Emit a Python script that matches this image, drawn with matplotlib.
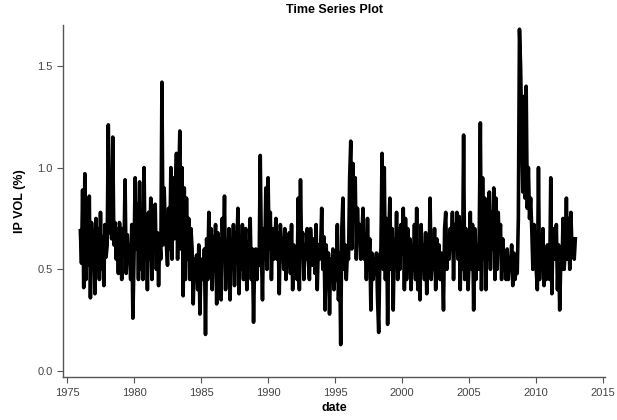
import numpy as np
import matplotlib
matplotlib.use("Agg")
import matplotlib.pyplot as plt

plt.rcParams['font.family'] = ['Liberation Sans', 'DejaVu Sans']

# monthly IP volatility (%), Jan 1976 .. Dec 2012
y1976 = [0.69, 0.53, 0.89, 0.41, 0.97, 0.45, 0.75, 0.52, 0.86, 0.36, 0.73, 0.62]
y1977 = [0.69, 0.38, 0.75, 0.55, 0.70, 0.45, 0.78, 0.50, 0.66, 0.42, 0.72, 0.56]
y1978 = [0.62, 1.21, 0.68, 0.85, 0.65, 1.15, 0.62, 0.73, 0.55, 0.70, 0.48, 0.73]
y1979 = [0.66, 0.45, 0.70, 0.58, 0.94, 0.48, 0.67, 0.55, 0.60, 0.45, 0.72, 0.26]
y1980 = [0.55, 0.95, 0.60, 0.82, 0.45, 0.93, 0.50, 0.75, 0.45, 1.00, 0.55, 0.70]
y1981 = [0.40, 0.78, 0.55, 0.85, 0.45, 0.70, 0.60, 0.82, 0.50, 0.68, 0.42, 0.65]
y1982 = [0.55, 1.42, 0.62, 0.90, 0.70, 0.62, 0.52, 0.80, 0.60, 1.00, 0.55, 0.95]
y1983 = [0.65, 0.85, 1.07, 0.55, 0.90, 1.18, 0.60, 1.00, 0.37, 0.90, 0.45, 0.85]
y1984 = [0.55, 0.75, 0.45, 0.70, 0.60, 0.33, 0.55, 0.48, 0.57, 0.40, 0.62, 0.28]
y1985 = [0.55, 0.45, 0.50, 0.60, 0.18, 0.65, 0.45, 0.78, 0.50, 0.70, 0.40, 0.66]
y1986 = [0.58, 0.72, 0.33, 0.68, 0.50, 0.65, 0.35, 0.75, 0.55, 0.86, 0.40, 0.62]
y1987 = [0.50, 0.70, 0.35, 0.65, 0.55, 0.72, 0.42, 0.68, 0.58, 0.80, 0.38, 0.66]
y1988 = [0.50, 0.72, 0.45, 0.60, 0.70, 0.40, 0.62, 0.55, 0.75, 0.45, 0.60, 0.24]
y1989 = [0.55, 0.60, 0.45, 0.58, 0.52, 1.06, 0.60, 0.35, 0.70, 0.55, 0.90, 0.50]
y1990 = [0.95, 0.60, 0.78, 0.45, 0.70, 0.55, 0.62, 0.75, 0.55, 0.68, 0.38, 0.72]
y1991 = [0.60, 0.65, 0.50, 0.70, 0.45, 0.62, 0.55, 0.68, 0.48, 0.72, 0.40, 0.62]
y1992 = [0.55, 0.60, 0.45, 0.85, 0.40, 0.94, 0.60, 0.68, 0.45, 0.62, 0.55, 0.70]
y1993 = [0.55, 0.45, 0.70, 0.60, 0.52, 0.65, 0.48, 0.72, 0.40, 0.62, 0.55, 0.60]
y1994 = [0.80, 0.50, 0.66, 0.30, 0.62, 0.45, 0.58, 0.28, 0.55, 0.45, 0.60, 0.40]
y1995 = [0.52, 0.45, 0.72, 0.35, 0.58, 0.13, 0.70, 0.85, 0.50, 0.62, 0.45, 0.58]
y1996 = [0.55, 0.95, 1.13, 0.60, 1.02, 0.75, 0.95, 0.55, 0.80, 0.65, 0.72, 0.55]
y1997 = [0.68, 0.80, 0.55, 0.67, 0.45, 0.75, 0.50, 0.65, 0.30, 0.58, 0.45, 0.55]
y1998 = [0.50, 0.58, 0.35, 0.19, 0.55, 0.60, 1.07, 0.50, 1.00, 0.45, 0.75, 0.23]
y1999 = [0.65, 0.85, 0.50, 0.70, 0.30, 0.65, 0.55, 0.78, 0.45, 0.70, 0.50, 0.72]
y2000 = [0.60, 0.80, 0.40, 0.75, 0.45, 0.70, 0.55, 0.65, 0.40, 0.62, 0.50, 0.72]
y2001 = [0.45, 0.80, 0.40, 0.60, 0.35, 0.72, 0.50, 0.62, 0.45, 0.68, 0.38, 0.60]
y2002 = [0.50, 0.85, 0.45, 0.60, 0.50, 0.70, 0.40, 0.65, 0.55, 0.62, 0.45, 0.58]
y2003 = [0.52, 0.30, 0.70, 0.78, 0.50, 0.65, 0.55, 0.70, 0.60, 0.78, 0.45, 0.72]
y2004 = [0.60, 0.78, 0.55, 0.76, 0.40, 0.72, 0.50, 1.16, 0.45, 0.70, 0.60, 0.40]
y2005 = [0.55, 0.78, 0.50, 0.72, 0.30, 0.70, 0.45, 0.62, 0.50, 0.68, 1.22, 0.40]
y2006 = [0.95, 0.55, 0.85, 0.40, 0.80, 0.55, 0.88, 0.50, 0.78, 0.60, 0.90, 0.45]
y2007 = [0.85, 0.50, 0.78, 0.60, 0.72, 0.45, 0.65, 0.50, 0.58, 0.45, 0.60, 0.45]
y2008 = [0.55, 0.50, 0.62, 0.42, 0.58, 0.45, 0.50, 0.48, 0.75, 1.68, 1.50, 1.20]
y2009 = [0.88, 1.35, 0.85, 1.40, 0.80, 1.00, 0.75, 0.85, 0.70, 0.50, 0.72, 0.60]
y2010 = [0.50, 0.40, 1.00, 0.45, 0.65, 0.55, 0.70, 0.42, 0.60, 0.45, 0.62, 0.50]
y2011 = [0.45, 0.95, 0.38, 0.70, 0.60, 0.55, 0.72, 0.40, 0.62, 0.30, 0.55, 0.50]
y2012 = [0.75, 0.50, 0.60, 0.85, 0.55, 0.75, 0.50, 0.78, 0.60, 0.65, 0.55, 0.65]

years = [y1976, y1977, y1978, y1979, y1980, y1981, y1982, y1983, y1984, y1985,
         y1986, y1987, y1988, y1989, y1990, y1991, y1992, y1993, y1994, y1995,
         y1996, y1997, y1998, y1999, y2000, y2001, y2002, y2003, y2004, y2005,
         y2006, y2007, y2008, y2009, y2010, y2011, y2012]
vol = np.concatenate(years)
date = 1976 + np.arange(len(vol)) / 12.0

xticks = [1975, 1980, 1985, 1990, 1995, 2000, 2005, 2010, 2015]
yticks = [0.0, 0.5, 1.0, 1.5]

fig = plt.figure(figsize=(6.17, 4.2), dpi=100)
ax = fig.add_axes([0.102, 0.102, 0.879, 0.838])
ax.plot(date, vol, color='black', lw=2.6, solid_joinstyle='round')

ax.set_xlim(1974.7, 2015.15)
ax.set_ylim(-0.03, 1.70)
ax.set_xticks(xticks)
ax.set_yticks(yticks)
ax.set_yticklabels(['%.1f' % v for v in yticks])

for s in ['top', 'right']:
    ax.spines[s].set_visible(False)
for s in ['left', 'bottom']:
    ax.spines[s].set_color('#555555')
    ax.spines[s].set_linewidth(1.0)
ax.tick_params(colors='#555555', labelcolor='#444444', labelsize=8, length=4, width=0.8)

ax.set_title('Time Series Plot', fontsize=9, fontweight='bold', pad=9)
ax.set_xlabel('date', fontsize=9, fontweight='bold', labelpad=3)
ax.set_ylabel('IP VOL (%)', fontsize=9, fontweight='bold', labelpad=8)

fig.savefig('out.png', dpi=100)
